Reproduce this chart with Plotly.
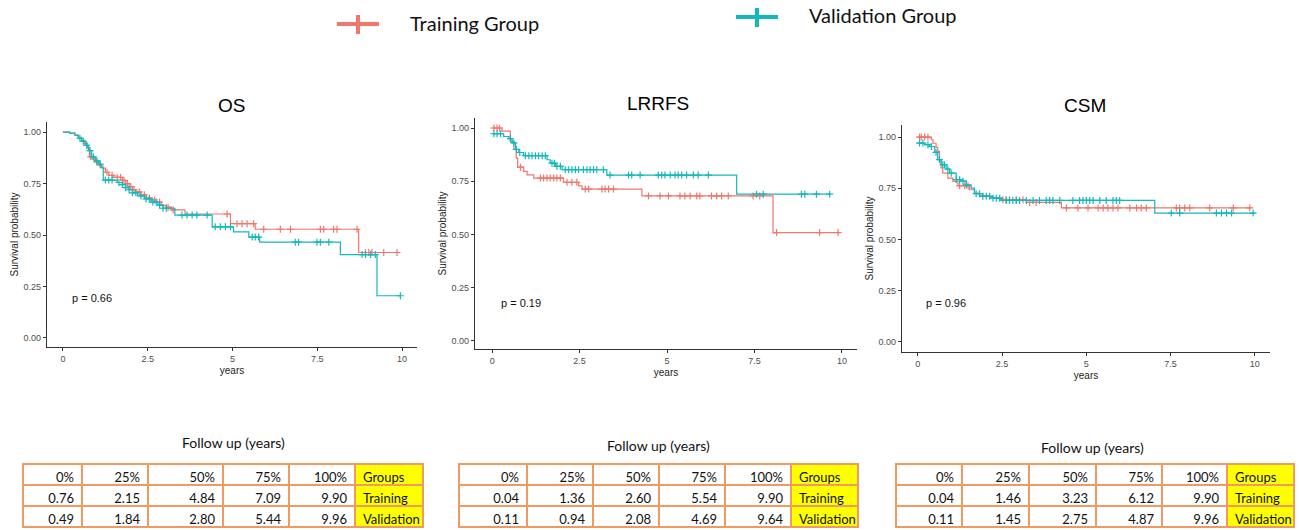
import plotly.graph_objects as go

RED = "#F1766D"
TEAL = "#13B8BD"

# ---------------- OS ----------------
os_train_t = [0, 0.2, 0.35, 0.45, 0.55, 0.65, 0.72, 0.78, 0.85, 0.95, 1.05, 1.15, 1.25, 1.35, 1.5,
              1.75, 1.85, 1.95, 2.05, 2.15, 2.3, 2.45, 2.6, 2.75, 2.9, 3.05, 3.2, 3.6, 4.94, 5.67, 8.72]
os_train_s = [1.0, 0.995, 0.985, 0.975, 0.96, 0.945, 0.925, 0.88, 0.87, 0.855, 0.84, 0.825, 0.805, 0.79, 0.78,
              0.765, 0.75, 0.735, 0.72, 0.71, 0.695, 0.68, 0.67, 0.66, 0.645, 0.635, 0.622, 0.602, 0.555, 0.528, 0.415]
os_train_end = 9.90
os_train_cens = [0.82, 1.0, 1.1, 1.3, 1.45, 1.6, 1.7, 1.8, 1.9, 2.0, 2.1, 2.25, 2.4, 2.55, 2.7, 2.85, 3.1, 3.25,
                 4.84, 5.13, 5.28, 5.43, 5.62, 5.92, 6.41, 6.71, 7.59, 7.69, 7.98, 8.08, 8.67,
                 8.92, 9.02, 9.11, 9.46, 9.85]
os_valid_t = [0, 0.2, 0.35, 0.45, 0.55, 0.65, 0.75, 0.85, 0.95, 1.05, 1.12, 1.19, 1.6, 1.75, 1.85, 1.95,
              2.05, 2.2, 2.4, 2.6, 2.8, 2.95, 3.3, 4.4, 5.03, 5.48, 5.8, 8.18, 9.26]
os_valid_s = [1.0, 0.995, 0.985, 0.97, 0.955, 0.935, 0.91, 0.88, 0.86, 0.845, 0.83, 0.767, 0.755, 0.745, 0.73, 0.72,
              0.705, 0.69, 0.675, 0.66, 0.645, 0.63, 0.597, 0.54, 0.515, 0.49, 0.465, 0.405, 0.205]
os_valid_end = 9.96
os_valid_cens = [0.5, 0.6, 0.7, 0.8, 0.9, 1.0, 1.1, 1.25, 1.35, 1.45, 1.65, 1.75, 1.85, 1.95, 2.05, 2.15, 2.3,
                 2.45, 2.55, 2.65, 2.75, 2.85, 2.95, 3.05, 3.51, 3.66, 3.81, 3.95, 4.25, 4.49, 4.64, 4.79, 4.94,
                 5.58, 5.67, 5.77, 6.85, 6.95, 7.49, 7.59, 7.84, 8.82, 8.92, 9.07, 9.21, 9.95]

# ---------------- LRRFS ----------------
lr_train_t = [0, 0.28, 0.52, 0.62, 0.69, 0.73, 0.9, 1.0, 1.19, 2.04, 2.47, 2.57, 4.28, 8.03]
lr_train_s = [1.0, 0.985, 0.937, 0.90, 0.859, 0.816, 0.796, 0.78, 0.765, 0.745, 0.728, 0.713, 0.681, 0.509]
lr_train_end = 9.93
lr_train_cens = [0.05, 0.14, 0.21, 0.81, 1.38, 1.47, 1.57, 1.66, 1.76, 1.85, 1.95, 2.14, 2.28, 2.42, 2.66, 2.76,
                 3.14, 3.23, 3.33, 3.47, 4.47, 4.80, 5.04, 5.37, 5.51, 5.66, 5.85, 5.94, 6.27, 6.42, 6.56, 6.75,
                 7.46, 7.65, 8.13, 9.36, 9.89]
lr_valid_t = [0, 0.33, 0.48, 0.57, 0.67, 0.76, 0.9, 1.57, 1.66, 1.81, 2.0, 3.28, 6.99]
lr_valid_s = [0.973, 0.96, 0.95, 0.93, 0.90, 0.885, 0.87, 0.851, 0.835, 0.82, 0.804, 0.779, 0.689]
lr_valid_end = 9.65
lr_valid_cens = [0.05, 0.14, 0.24, 0.52, 0.62, 0.69, 0.79, 0.95, 1.05, 1.14, 1.24, 1.33, 1.43, 1.52, 1.71, 1.78,
                 1.85, 1.95, 2.09, 2.19, 2.28, 2.38, 2.47, 2.61, 2.71, 2.80, 2.90, 2.99, 3.18, 3.37, 3.90, 3.99,
                 4.23, 4.75, 4.85, 4.94, 5.09, 5.23, 5.32, 5.42, 5.56, 5.75, 5.89, 6.18, 7.56, 7.75, 8.84, 8.94,
                 9.27, 9.65]

# ---------------- CSM ----------------
cs_train_t = [0, 0.4, 0.45, 0.54, 0.59, 0.64, 0.69, 0.74, 0.89, 1.04, 1.19, 1.53, 1.68, 1.83, 2.13, 2.43, 3.22, 4.26]
cs_train_s = [1.0, 0.987, 0.97, 0.95, 0.93, 0.89, 0.85, 0.824, 0.80, 0.784, 0.763, 0.743, 0.727, 0.714, 0.705,
              0.694, 0.681, 0.654]
cs_train_end = 9.90
cs_train_cens = [0.05, 0.10, 0.2, 0.3, 1.24, 1.39, 1.49, 2.52, 2.62, 2.72, 2.92, 3.12, 3.32, 3.51, 4.41, 4.75,
                 5.05, 5.35, 5.50, 5.64, 5.79, 5.94, 6.29, 6.49, 6.63, 6.78, 7.67, 7.77, 7.92, 8.07, 8.66,
                 9.36, 9.85]
cs_valid_t = [0, 0.2, 0.35, 0.5, 0.59, 0.69, 0.84, 0.94, 1.14, 1.29, 1.44, 1.58, 1.68, 1.93, 2.23, 2.48, 7.03]
cs_valid_s = [0.971, 0.963, 0.954, 0.925, 0.89, 0.865, 0.844, 0.824, 0.792, 0.785, 0.767, 0.751, 0.724, 0.711,
              0.702, 0.691, 0.629]
cs_valid_end = 10.0
cs_valid_cens = [0.05, 0.15, 0.3, 0.4, 0.54, 0.64, 0.74, 0.79, 0.89, 0.99, 1.14, 1.24, 1.34, 1.44, 1.73, 1.83,
                 1.93, 2.03, 2.13, 2.23, 2.33, 2.43, 2.62, 2.72, 2.82, 2.92, 3.02, 3.22, 3.42, 3.61, 3.81, 3.91,
                 4.01, 4.21, 4.60, 4.80, 4.90, 5.0, 5.10, 5.20, 5.40, 5.59, 5.79, 5.89, 5.99, 7.52, 7.77, 8.86,
                 9.01, 9.16, 9.31, 9.95]

panel_titles = ["OS", "LRRFS", "CSM"]
p_values = ["p = 0.66", "p = 0.19", "p = 0.96"]
group_names = ["Training Group", "Validation Group"]

# ---------------- Follow-up tables ----------------
table_header = ["0%", "25%", "50%", "75%", "100%", "Groups"]
table_groups = ["Training", "Validation"]
os_follow_training = [0.76, 2.15, 4.84, 7.09, 9.90]
os_follow_validation = [0.49, 1.84, 2.80, 5.44, 9.96]
lr_follow_training = [0.04, 1.36, 2.60, 5.54, 9.90]
lr_follow_validation = [0.11, 0.94, 2.08, 4.69, 9.64]
cs_follow_training = [0.04, 1.46, 3.23, 6.12, 9.90]
cs_follow_validation = [0.11, 1.45, 2.75, 4.87, 9.96]

W, H = 1299, 530

panels = [
    dict(train=(os_train_t, os_train_s, os_train_end, os_train_cens),
         valid=(os_valid_t, os_valid_s, os_valid_end, os_valid_cens),
         xpx=(47, 417), ypx=(122, 347), xr=[-0.47, 10.44], yr=[-0.044, 1.049],
         title_xy=(231, 105), p_xy=(0.2, 0.194),
         table=(os_follow_training, os_follow_validation), tpx=(23, 423), tcw=[59, 66, 75, 66, 66, 68],
         ttl=(233, 442)),
    dict(train=(lr_train_t, lr_train_s, lr_train_end, lr_train_cens),
         valid=(lr_valid_t, lr_valid_s, lr_valid_end, lr_valid_cens),
         xpx=(475, 857), ypx=(118, 349), xr=[-0.49, 10.43], yr=[-0.038, 1.047],
         title_xy=(658, 103), p_xy=(0.19, 0.179),
         table=(lr_follow_training, lr_follow_validation), tpx=(459, 858), tcw=[68, 66, 66, 66, 66, 67],
         ttl=(658, 445)),
    dict(train=(cs_train_t, cs_train_s, cs_train_end, cs_train_cens),
         valid=(cs_valid_t, cs_valid_s, cs_valid_end, cs_valid_cens),
         xpx=(902, 1270), ypx=(125, 352), xr=[-0.47, 10.45], yr=[-0.049, 1.059],
         title_xy=(1085, 105), p_xy=(0.17, 0.19),
         table=(cs_follow_training, cs_follow_validation), tpx=(896, 1294), tcw=[66, 67, 67, 66, 65, 67],
         ttl=(1092, 447)),
]


def step_value(ts, ss, t):
    v = ss[0]
    for ti, si in zip(ts, ss):
        if ti <= t:
            v = si
    return v


fig = go.Figure()
annotations = []
shapes = []
axis_font = dict(family="Liberation Sans, Arial, sans-serif", size=9, color="#4D4D4D")
for i, p in enumerate(panels):
    k = "" if i == 0 else str(i + 1)
    xa, ya = "x" + k, "y" + k
    for key, color, name in (("train", RED, group_names[0]), ("valid", TEAL, group_names[1])):
        ts, ss, end, cens = p[key]
        fig.add_trace(go.Scatter(x=list(ts) + [end], y=list(ss) + [ss[-1]], mode="lines",
                                 line=dict(color=color, width=1.2, shape="hv"), name=name,
                                 showlegend=False, xaxis=xa, yaxis=ya, hoverinfo="skip"))
        fig.add_trace(go.Scatter(x=cens, y=[step_value(ts, ss, c) for c in cens], mode="markers",
                                 marker=dict(symbol="cross-thin", size=5, line=dict(color=color, width=1.2)),
                                 name=name, showlegend=False, xaxis=xa, yaxis=ya, hoverinfo="skip"))
    x0, x1 = p["xpx"]
    y0, y1 = p["ypx"]
    common = dict(showline=True, linecolor="#333333", linewidth=1.1, ticks="outside", ticklen=3,
                  tickwidth=1, tickcolor="#333333", showgrid=False, zeroline=False, tickfont=axis_font)
    fig.update_layout(**{
        "xaxis" + k: dict(domain=[x0 / W, x1 / W], range=p["xr"], anchor=ya,
                          tickvals=[0, 2.5, 5, 7.5, 10], ticktext=["0", "2.5", "5", "7.5", "10"],
                          title=dict(text="years", font=dict(family="Liberation Sans, Arial", size=10,
                                                             color="#222"), standoff=4), **common),
        "yaxis" + k: dict(domain=[1 - y1 / H, 1 - y0 / H], range=p["yr"], anchor=xa,
                          tickvals=[0, 0.25, 0.5, 0.75, 1.0],
                          ticktext=["0.00", "0.25", "0.50", "0.75", "1.00"],
                          title=dict(text="Survival probability",
                                     font=dict(family="Liberation Sans, Arial", size=10, color="#222"),
                                     standoff=3), **common),
    })
    annotations.append(dict(text=panel_titles[i], x=p["title_xy"][0] / W, y=1 - p["title_xy"][1] / H,
                            xref="paper", yref="paper", showarrow=False, xanchor="center", yanchor="middle",
                            font=dict(family="Liberation Sans, Arial", size=19, color="#000")))
    annotations.append(dict(text=p_values[i], x=p["p_xy"][0], y=p["p_xy"][1], xref=xa, yref=ya,
                            showarrow=False, xanchor="left", yanchor="middle",
                            font=dict(family="Liberation Sans, Arial", size=11, color="#111")))
    annotations.append(dict(text="Follow up (years)", x=p["ttl"][0] / W, y=1 - p["ttl"][1] / H,
                            xref="paper", yref="paper", showarrow=False, xanchor="center", yanchor="middle",
                            font=dict(family="Lato, sans-serif", size=14, color="#111")))
    tr, va = p["table"]
    cols = [[table_header[j], f"{tr[j]:.2f}", f"{va[j]:.2f}"] for j in range(5)]
    cols.append([table_header[5]] + table_groups)
    tx0, tx1 = p["tpx"]
    fig.add_trace(go.Table(
        domain=dict(x=[tx0 / W, tx1 / W], y=[0, 1 - 464 / H]),
        columnwidth=p["tcw"],
        header=dict(values=[c[0] for c in cols], height=21,
                    align=["right"] * 5 + ["left"], fill=dict(color=["white"] * 5 + ["#FFFF00"]),
                    line=dict(color="#EE9A62", width=1.5),
                    font=dict(family="Lato, sans-serif", size=13, color="#111")),
        cells=dict(values=[c[1:] for c in cols], height=21,
                   align=["right"] * 5 + ["left"], fill=dict(color=["white"] * 5 + ["#FFFF00"]),
                   line=dict(color="#EE9A62", width=1.5),
                   font=dict(family="Lato, sans-serif", size=13, color="#111")),
    ))

# manual legend at top
legend_items = [(group_names[0], RED, 358, 24, 408, 23), (group_names[1], TEAL, 757, 17, 807, 15)]
for name, color, cx, cy, tx, ty in legend_items:
    shapes.append(dict(type="line", xref="paper", yref="paper", x0=(cx - 21) / W, x1=(cx + 21) / W,
                       y0=1 - cy / H, y1=1 - cy / H, line=dict(color=color, width=4)))
    shapes.append(dict(type="line", xref="paper", yref="paper", x0=cx / W, x1=cx / W,
                       y0=1 - (cy - 9) / H, y1=1 - (cy + 10) / H, line=dict(color=color, width=4)))
    annotations.append(dict(text=name, x=tx / W, y=1 - ty / H, xref="paper", yref="paper", showarrow=False,
                            xanchor="left", yanchor="middle",
                            font=dict(family="Lato, sans-serif", size=20, color="#111")))

fig.update_layout(width=W, height=H, margin=dict(l=0, r=0, t=0, b=0), paper_bgcolor="white",
                  plot_bgcolor="white", showlegend=False, annotations=annotations, shapes=shapes)

fig.write_html("out.html", config={"displayModeBar": False},
               post_script="document.body.style.margin='0';")
